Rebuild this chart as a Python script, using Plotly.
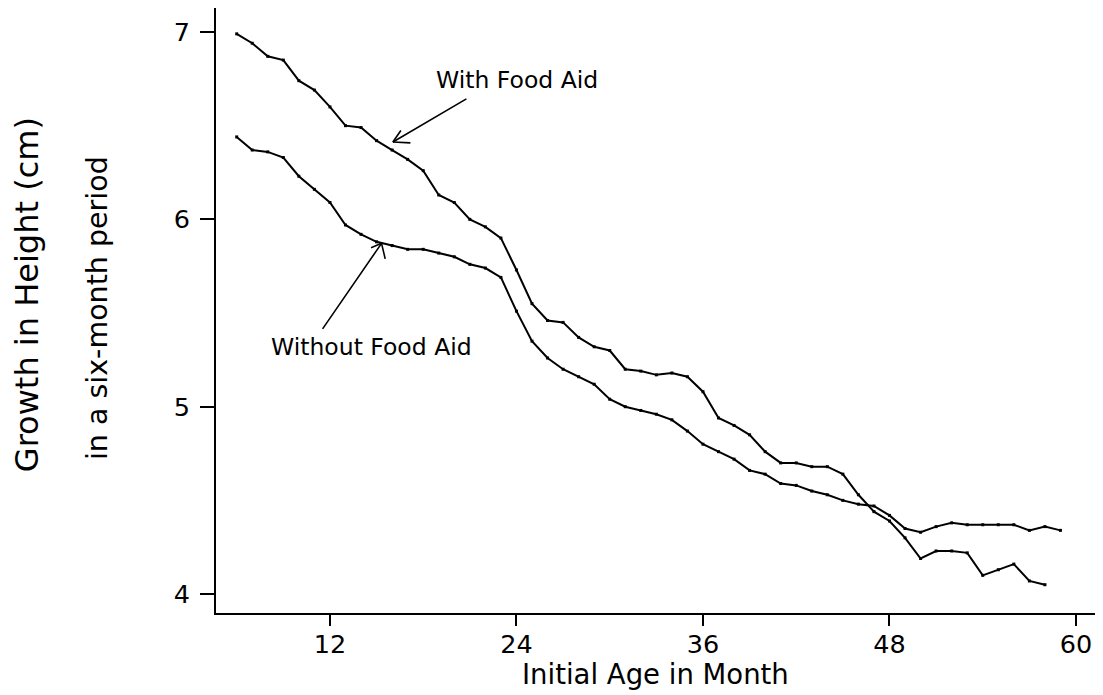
import plotly.graph_objects as go

# ---- data ----
months_with = list(range(6, 59))
growth_with = [6.99, 6.94, 6.87, 6.85, 6.74, 6.69, 6.60, 6.50, 6.49, 6.42,
               6.37, 6.32, 6.26, 6.13, 6.09, 6.00, 5.96, 5.90, 5.73, 5.55,
               5.46, 5.45, 5.37, 5.32, 5.30, 5.20, 5.19, 5.17, 5.18, 5.16,
               5.08, 4.94, 4.90, 4.85, 4.76, 4.70, 4.70, 4.68, 4.68, 4.64,
               4.53, 4.44, 4.39, 4.30, 4.19, 4.23, 4.23, 4.22, 4.10, 4.13,
               4.16, 4.07, 4.05]

months_without = list(range(6, 60))
growth_without = [6.44, 6.37, 6.36, 6.33, 6.23, 6.16, 6.09, 5.97, 5.92, 5.88,
                  5.86, 5.84, 5.84, 5.82, 5.80, 5.76, 5.74, 5.69, 5.51, 5.35,
                  5.26, 5.20, 5.16, 5.12, 5.04, 5.00, 4.98, 4.96, 4.93, 4.87,
                  4.80, 4.76, 4.72, 4.66, 4.64, 4.59, 4.58, 4.55, 4.53, 4.50,
                  4.48, 4.47, 4.42, 4.35, 4.33, 4.36, 4.38, 4.37, 4.37, 4.37,
                  4.37, 4.34, 4.36, 4.34]

x_ticks = [12, 24, 36, 48, 60]
y_ticks = [4, 5, 6, 7]

FONT = "DejaVu Sans"

fig = go.Figure()
line_style = dict(color="black", width=2)
marker_style = dict(symbol="square", size=3, color="black")
fig.add_trace(go.Scatter(x=months_with, y=growth_with, mode="lines+markers",
                         line=line_style, marker=marker_style,
                         name="With Food Aid", showlegend=False))
fig.add_trace(go.Scatter(x=months_without, y=growth_without, mode="lines+markers",
                         line=line_style, marker=marker_style,
                         name="Without Food Aid", showlegend=False))

# text labels
fig.add_annotation(x=24.03, y=6.744, xref="x", yref="y", text="With Food Aid",
                   showarrow=False, font=dict(family=FONT, size=23.5, color="black"),
                   xanchor="center", yanchor="middle")
fig.add_annotation(x=14.68, y=5.321, xref="x", yref="y", text="Without Food Aid",
                   showarrow=False, font=dict(family=FONT, size=23.5, color="black"),
                   xanchor="center", yanchor="middle")

# arrows: shaft plus two open "V" arms, all drawn from the arrow tip
def pointer(tip_x, tip_y, offsets):
    for ax, ay in offsets:
        fig.add_annotation(x=tip_x, y=tip_y, xref="x", yref="y", text="",
                           showarrow=True, ax=ax, ay=ay, arrowhead=0,
                           arrowwidth=1.6, arrowcolor="black", standoff=0,
                           startstandoff=0)

pointer(16.05, 6.413, [(75, -44), (9, -13), (19, 1)])
pointer(15.32, 5.872, [(-60, 87), (-12, 5), (4, 17)])

# y-axis titles (two lines)
fig.add_annotation(x=-0.2143, y=0.527, xref="paper", yref="paper",
                   text="Growth in Height (cm)", textangle=-90, showarrow=False,
                   font=dict(family=FONT, size=32, color="black"),
                   xanchor="center", yanchor="middle")
fig.add_annotation(x=-0.1349, y=0.504, xref="paper", yref="paper",
                   text="in a six-month period", textangle=-90, showarrow=False,
                   font=dict(family=FONT, size=28.5, color="black"),
                   xanchor="center", yanchor="middle")
# x-axis title
fig.add_annotation(x=0.498, y=-0.101, xref="paper", yref="paper",
                   text="Initial Age in Month", showarrow=False,
                   font=dict(family=FONT, size=27.5, color="black"),
                   xanchor="center", yanchor="middle")

axis_common = dict(showgrid=False, zeroline=False, showline=True, linewidth=2,
                   linecolor="black", ticks="outside", tickwidth=2,
                   tickcolor="black", mirror=False,
                   tickfont=dict(family=FONT, size=25.5, color="black"))

fig.update_xaxes(range=[4.669, 61.415], tickvals=x_ticks,
                 ticktext=[str(v) for v in x_ticks], ticklen=11,
                 ticklabelstandoff=-4, **axis_common)
fig.update_yaxes(range=[3.899, 7.128], tickvals=y_ticks,
                 ticktext=[str(v) for v in y_ticks], ticklen=14,
                 ticklabelstandoff=5, **axis_common)

# page body has an 8px margin, so the figure is sized to fit the window
fig.update_layout(width=1095, height=687,
                  margin=dict(l=208, r=5, t=0, b=82),
                  plot_bgcolor="white", paper_bgcolor="white",
                  font=dict(family=FONT, color="black"),
                  showlegend=False)

fig.write_html("out.html")
